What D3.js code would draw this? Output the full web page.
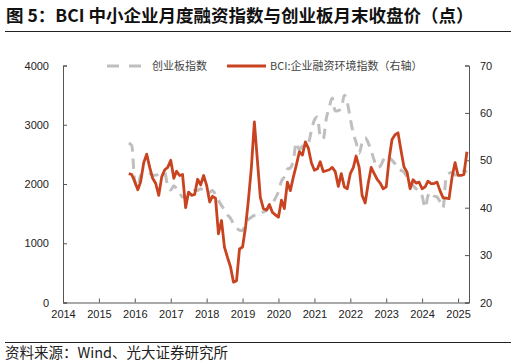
<!DOCTYPE html>
<html><head><meta charset="utf-8">
<script src="https://cdn.jsdelivr.net/npm/d3@7"></script>
<style>
html,body{margin:0;padding:0;background:#fff;}
svg{display:block;}
</style></head>
<body>
<svg id="c" width="516" height="363"></svg>
<script>
// ---- data ----
const startMonth = new Date(2015, 10, 1); // Nov 2015
const endMonth = new Date(2025, 4, 1);    // exclusive (May 2025)
const months = d3.timeMonth.range(startMonth, endMonth); // Nov 2015 .. Apr 2025

const bciValues = [
  47.2, 47.0, 45.5, 43.8, 45.5, 49.5, 51.3, 48.5, 46.2, 45.1,
  42.6, 46.5, 48.0, 48.5, 50.0, 46.2, 47.7, 46.8, 47.0, 40.0,
  43.3, 42.6, 42.8, 46.0, 44.8, 46.8, 44.7, 41.2, 42.4, 42.0,
  34.5, 37.3, 31.7, 29.5, 27.5, 24.3, 24.6, 31.3, 31.7, 36.0,
  41.5, 48.5, 58.1, 50.0, 42.2, 39.8, 39.5, 40.7, 39.0, 38.5,
  38.0, 41.6, 39.8, 45.4, 43.6, 46.5, 49.0, 51.8, 51.1, 53.9,
  52.5, 49.5, 47.9, 48.2, 49.7, 47.6, 47.8, 48.0, 48.5, 47.6,
  44.5, 47.2, 44.4, 44.0, 47.2, 48.5, 50.9, 48.5, 42.6, 41.0,
  45.0, 48.5, 47.2, 46.0, 45.2, 44.0, 44.4, 50.5, 54.4, 55.4,
  55.8, 52.0, 48.6, 47.5, 44.0, 45.9, 45.2, 45.4, 44.0, 44.4,
  45.6, 45.1, 45.1, 45.4, 43.6, 42.1, 42.0, 41.9, 46.5, 49.5,
  46.8, 46.8, 47.0, 51.8
];
const chinextValues = [
  2690, 2650, 2050, 1950, 2150, 2170, 2200, 2180, 2145, 2150,
  2160, 2180, 2185, 1960, 1900, 1970, 1920, 1850, 1780, 1780,
  1800, 1850, 1890, 1890, 1920, 1880, 1830, 1860, 1890, 1820,
  1720, 1640, 1560, 1480, 1420, 1330, 1260, 1220, 1216, 1330,
  1400, 1440, 1470, 1490, 1500, 1530, 1555, 1610, 1670, 1760,
  1870, 2050, 2120, 2250, 2270, 2400, 2700, 2580, 2640, 2680,
  2700, 2900, 3080, 3130, 2800, 2760, 3100, 3300, 3450, 3230,
  3240, 3270, 3500, 3380, 3100, 2850, 2700, 2520, 2700, 2780,
  2700, 2560, 2400, 2280, 2300, 2400, 2480, 2450, 2400, 2340,
  2260, 2230, 2200, 2120, 2050, 1975, 1920, 1870, 1800, 1600,
  1800, 1860, 1800, 1780, 1700, 1600, 2100, 2180, 2200, 2150,
  2150, 2200, 2220, 2200
];
const leftTicks = [0, 1000, 2000, 3000, 4000];
const rightTicks = [20, 30, 40, 50, 60, 70];
const yearTicks = ["2014","2015","2016","2017","2018","2019","2020","2021","2022","2023","2024","2025"];
const titleText = "图 5：BCI 中小企业月度融资指数与创业板月末收盘价（点）";
const sourceText = "资料来源：Wind、光大证券研究所";
const legendNames = ["创业板指数", "BCI:企业融资环境指数（右轴）"];

// ---- layout ----
const svg = d3.select("#c");
const L = 63, R = 469, T = 65.5, B = 302.5;
const FONT = "'Liberation Sans', Arial, sans-serif";
const CJK = "'Noto Sans CJK SC', sans-serif";
const axisColor = "#555";
const red = "#C8431F";
const gray = "#BFBFBF";

const x = d3.scaleTime().domain([new Date(2014,0,1), new Date(2025,3,22)]).range([L, R]);
const yL = d3.scaleLinear().domain([0, 4000]).range([B, T]);
const yR = d3.scaleLinear().domain([20, 70]).range([B, T]);

// title
svg.append("text").attr("x", 6).attr("y", 22)
  .attr("font-family", CJK).attr("font-weight", 700).attr("font-size", 17.5)
  .attr("fill", "#111").text(titleText);
svg.append("line").attr("x1", 5).attr("x2", 511).attr("y1", 31.5).attr("y2", 31.5)
  .attr("stroke", "#222").attr("stroke-width", 1);

// axes
const gL = svg.append("g").attr("transform", `translate(${L},0)`)
  .call(d3.axisLeft(yL).tickValues(leftTicks).tickSize(-4).tickPadding(14).tickFormat(d3.format("d")));
const gR = svg.append("g").attr("transform", `translate(${R},0)`)
  .call(d3.axisRight(yR).tickValues(rightTicks).tickSize(-4).tickPadding(11).tickFormat(d3.format("d")));
const gB = svg.append("g").attr("transform", `translate(0,${B})`)
  .call(d3.axisBottom(x).tickValues(yearTicks.map(y => new Date(+y,0,1))).tickSize(-4).tickPadding(8)
    .tickFormat(d3.timeFormat("%Y")));
[gL, gR, gB].forEach(g => {
  g.select(".domain").attr("stroke", axisColor).attr("stroke-width", 1);
  g.selectAll(".tick line").attr("stroke", axisColor);
  g.selectAll("text").attr("font-family", FONT).attr("font-size", 11).attr("fill", "#222");
});
gB.selectAll("text").attr("dy", "0.71em");

// lines
const grayLine = d3.line().x((d,i) => x(months[i])).y(d => yL(d)).curve(d3.curveMonotoneX);
const redLine = d3.line().x((d,i) => x(months[i])).y(d => yR(d));

svg.append("path").datum(chinextValues).attr("d", grayLine)
  .attr("fill", "none").attr("stroke", gray).attr("stroke-width", 3)
  .attr("stroke-dasharray", "10,7");
svg.append("path").datum(bciValues).attr("d", redLine)
  .attr("fill", "none").attr("stroke", red).attr("stroke-width", 2.8)
  .attr("stroke-linejoin", "round");

// legend
const ly = 66;
svg.append("line").attr("x1", 107).attr("x2", 141).attr("y1", ly).attr("y2", ly)
  .attr("stroke", gray).attr("stroke-width", 3).attr("stroke-dasharray", "12,10");
svg.append("text").attr("x", 152).attr("y", ly).attr("dy", "0.36em")
  .attr("font-family", CJK).attr("font-size", 11).attr("fill", "#444").text(legendNames[0]);
svg.append("line").attr("x1", 227).attr("x2", 266).attr("y1", ly).attr("y2", ly)
  .attr("stroke", red).attr("stroke-width", 2.8);
svg.append("text").attr("x", 270).attr("y", ly).attr("dy", "0.36em")
  .attr("font-family", CJK).attr("font-size", 11).attr("fill", "#444").text(legendNames[1]);

// footer
svg.append("line").attr("x1", 5).attr("x2", 511).attr("y1", 342.5).attr("y2", 342.5)
  .attr("stroke", "#222").attr("stroke-width", 1);
svg.append("text").attr("x", 5).attr("y", 357.5)
  .attr("font-family", CJK).attr("font-size", 14.5).attr("fill", "#222").text(sourceText);
</script>
</body></html>
